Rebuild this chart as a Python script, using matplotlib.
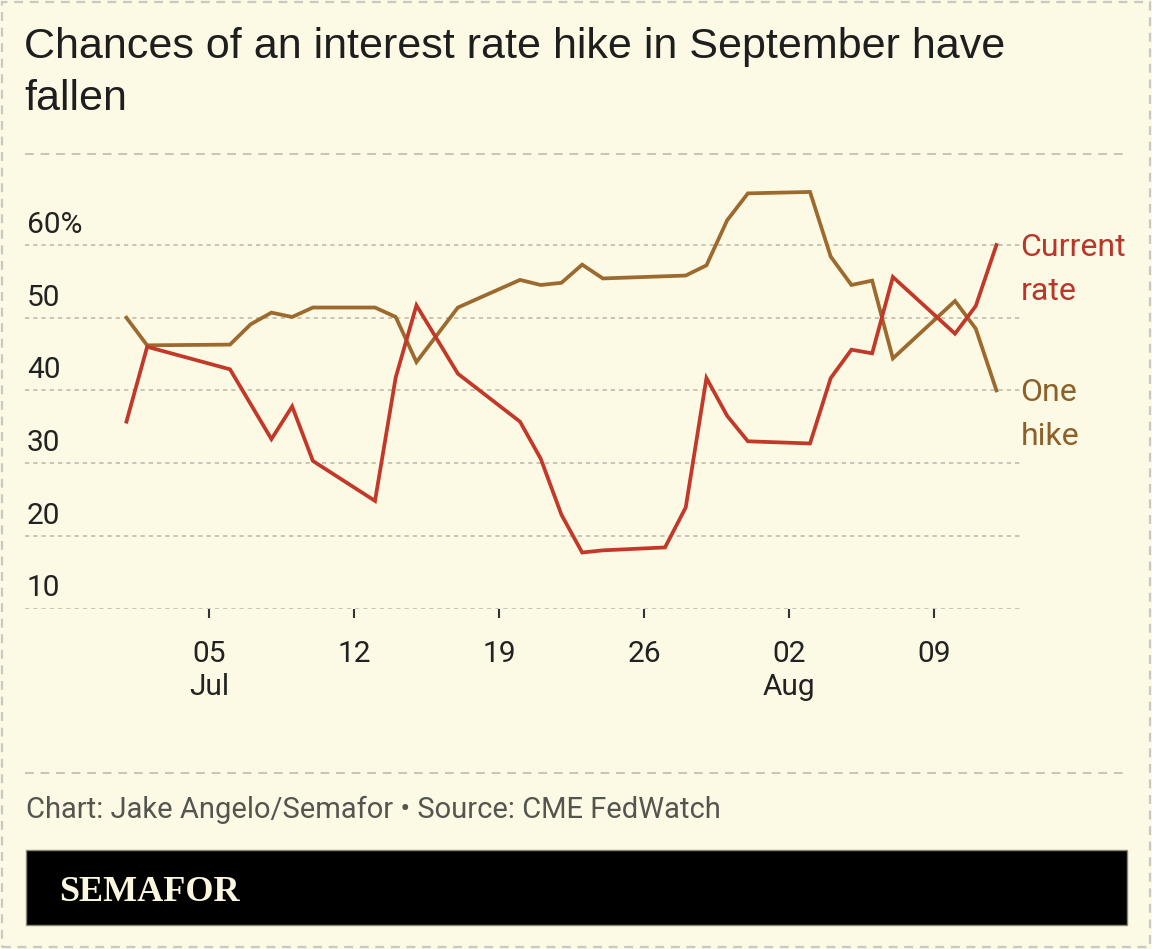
import matplotlib
matplotlib.use("Agg")
import matplotlib.pyplot as plt
import matplotlib.dates as mdates
from matplotlib.lines import Line2D
from matplotlib.patches import Rectangle
import pandas as pd

# ---------------- data ----------------
hike_dates = ["2023-07-01", "2023-07-02", "2023-07-06", "2023-07-07", "2023-07-08",
              "2023-07-09", "2023-07-10", "2023-07-13", "2023-07-14", "2023-07-15",
              "2023-07-17", "2023-07-20", "2023-07-21", "2023-07-22", "2023-07-23",
              "2023-07-24", "2023-07-28", "2023-07-29", "2023-07-30", "2023-07-31",
              "2023-08-03", "2023-08-04", "2023-08-05", "2023-08-06", "2023-08-07",
              "2023-08-10", "2023-08-11", "2023-08-12"]
one_hike = [50.0, 46.2, 46.3, 49.1, 50.7,
            50.1, 51.4, 51.4, 50.1, 43.9,
            51.4, 55.2, 54.5, 54.8, 57.3,
            55.4, 55.8, 57.2, 63.4, 67.1,
            67.3, 58.4, 54.5, 55.1, 44.4,
            52.3, 48.5, 40.0]

rate_dates = ["2023-07-01", "2023-07-02", "2023-07-06", "2023-07-08", "2023-07-09",
              "2023-07-10", "2023-07-13", "2023-07-14", "2023-07-15", "2023-07-17",
              "2023-07-20", "2023-07-21", "2023-07-22", "2023-07-23", "2023-07-24",
              "2023-07-27", "2023-07-28", "2023-07-29", "2023-07-30", "2023-07-31",
              "2023-08-03", "2023-08-04", "2023-08-05", "2023-08-06", "2023-08-07",
              "2023-08-10", "2023-08-11", "2023-08-12"]
current_rate = [35.7, 46.0, 42.9, 33.3, 37.8,
                30.3, 24.8, 41.8, 51.7, 42.3,
                35.7, 30.6, 22.9, 17.7, 18.0,
                18.4, 23.9, 41.7, 36.5, 33.0,
                32.7, 41.7, 45.6, 45.1, 55.6,
                47.8, 51.6, 60.0]

y_ticks = [10, 20, 30, 40, 50, 60]
y_labels = ["10", "20", "30", "40", "50", "60%"]
x_ticks = ["2023-07-05", "2023-07-12", "2023-07-19", "2023-07-26", "2023-08-02", "2023-08-09"]
x_labels = ["05\nJul", "12", "19", "26", "02\nAug", "09"]

title_lines = ["Chances of an interest rate hike in September have", "fallen"]
footer = "Chart: Jake Angelo/Semafor \u2022 Source: CME FedWatch"

# ---------------- style ----------------
BG = "#fcf9e5"
RED = "#c2392a"
BROWN = "#9c6a2e"
RED_TXT = "#b8362a"
BROWN_TXT = "#8c6029"
GRID = "#b9b7aa"
SANS = ["Roboto", "DejaVu Sans"]

W, H = 1152, 949
fig = plt.figure(figsize=(W / 100, H / 100), dpi=100, facecolor=BG)

def fx(px):
    return px / W

def fy(py):
    return 1 - py / H

# axes placement in pixels
L, R, T, B = 25, 1020, 154, 608.5
ax = fig.add_axes([fx(L), fy(B), fx(R - L), (B - T) / H])
ax.set_facecolor(BG)
for s in ax.spines.values():
    s.set_visible(False)

hd = pd.to_datetime(hike_dates)
rd = pd.to_datetime(rate_dates)
ax.plot(hd, one_hike, color=BROWN, lw=2.7, solid_joinstyle="miter", zorder=3)
ax.plot(rd, current_rate, color=RED, lw=2.7, solid_joinstyle="miter", zorder=4)

x0 = mdates.date2num(pd.Timestamp("2023-07-05"))
px_per_day = 725 / 35.0
ax.set_xlim(x0 + (L - 209.3) / px_per_day, x0 + (R - 209.3) / px_per_day)
ax.set_ylim(10, 10 + (B - T) / 7.27)

ax.set_yticks(y_ticks)
ax.tick_params(axis="y", left=False, labelleft=False)
ax.grid(axis="y", color=GRID, lw=1.1, linestyle=(0, (2.8, 2.6)))
ax.set_axisbelow(True)

ax.set_xticks(pd.to_datetime(x_ticks))
ax.set_xticklabels(x_labels, fontsize=21.5, family=SANS, color="#222222", linespacing=1.22)
ax.tick_params(axis="x", direction="out", length=6.5, width=1.5, color="#333333", pad=16)

# y labels above gridlines
for v, lab in zip(y_ticks, y_labels):
    ax.annotate(lab, xy=(0, v), xycoords=("axes fraction", "data"),
                xytext=(2, 12), textcoords="offset pixels",
                ha="left", va="baseline", fontsize=21.5, family=SANS, color="#222222")

# end labels
def end_label(d, v, lines, color):
    for i, t in enumerate(lines):
        ax.annotate(t, xy=(mdates.date2num(d), v), xycoords="data",
                    xytext=(24, -11 - 44 * i), textcoords="offset pixels",
                    ha="left", va="baseline", fontsize=23, family=SANS,
                    color=color, annotation_clip=False)

end_label(rd[-1], current_rate[-1], ["Current", "rate"], RED_TXT)
end_label(hd[-1], one_hike[-1], ["One", "hike"], BROWN_TXT)

# title
for i, t in enumerate(title_lines):
    fig.text(fx(24), fy(58 + 52 * i), t, fontsize=31,
             family=["Liberation Sans", "DejaVu Sans"], color="#1e1e1e", va="baseline")

# separators
fig.add_artist(Line2D([fx(25), fx(1127)], [fy(154), fy(154)], color="#c7c5b8", lw=1.4,
                      linestyle=(0, (4.5, 3.5))))
fig.add_artist(Line2D([fx(25), fx(1127)], [fy(773), fy(773)], color="#c7c5b8", lw=1.4,
                      linestyle=(0, (4.5, 3.5))))

# footer
fig.text(fx(26), fy(818), footer, fontsize=21, family=SANS,
         color="#555550", va="baseline")

# black band with logo
fig.add_artist(Rectangle((fx(26), fy(925)), fx(1127 - 26), (925 - 850) / H,
                         transform=fig.transFigure, facecolor="#000000",
                         edgecolor="#8a8875", lw=1.0))
fig.text(fx(59), fy(901), "SEMAFOR", fontsize=26, fontweight="bold",
         family=["Liberation Serif", "DejaVu Serif"], color="#fbf7df", va="baseline")

# outer dashed border
fig.add_artist(Rectangle((fx(2), fy(947)), fx(1148), 945 / H, transform=fig.transFigure,
                         facecolor="none", edgecolor="#c9c9c2", lw=1.6,
                         linestyle=(0, (4, 3))))

fig.savefig("out.png", dpi=100, facecolor=BG)
